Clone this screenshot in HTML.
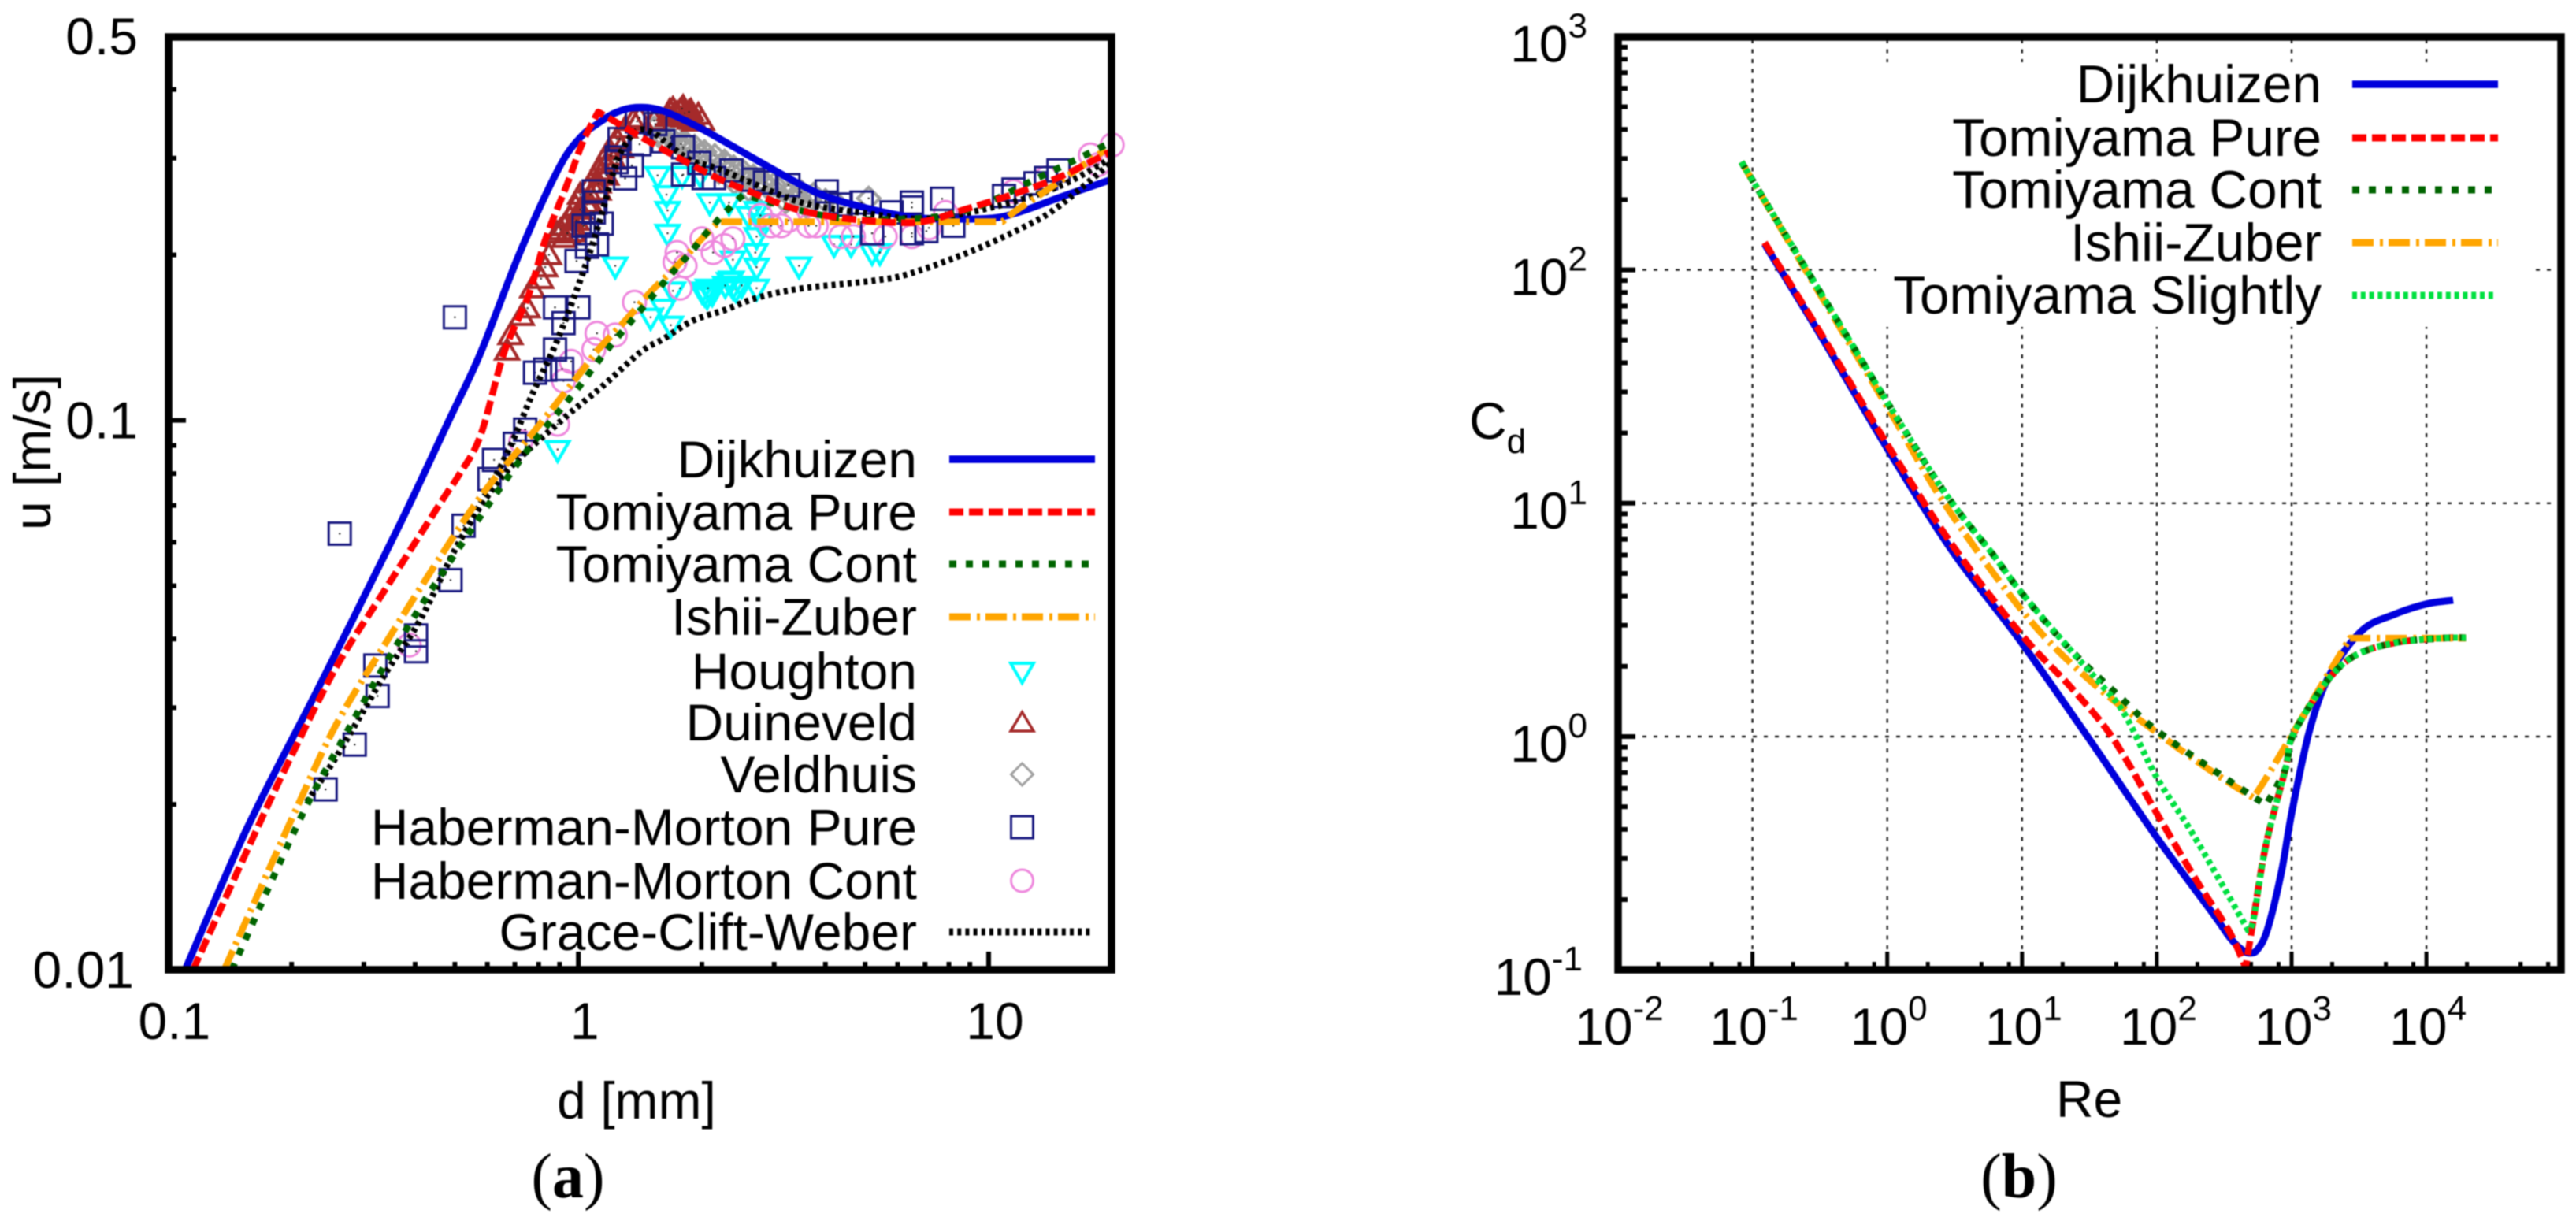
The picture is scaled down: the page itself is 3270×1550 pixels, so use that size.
<!DOCTYPE html>
<html lang="en">
<head>
<meta charset="utf-8">
<title>Bubble rise velocity and drag coefficient</title>
<style>
html,body{margin:0;padding:0;background:#fff;}
svg{display:block;filter:blur(0.8px);}
text{font-family:"Liberation Sans",sans-serif;font-size:66px;fill:#000;}
.cap{font-family:"Liberation Serif",serif;font-size:80px;}
.frame{fill:none;stroke:#000;stroke-width:9.5;}
.leg{text-anchor:end;}
.legb{text-anchor:end;font-size:67.5px;}
</style>
</head>
<body>
<svg id="figure" xmlns="http://www.w3.org/2000/svg" width="3270" height="1550" viewBox="0 0 3270 1550">
  <g id="panel-a">
    <g id="a-ticks"></g>
    <g id="a-markers"></g>
    <g id="a-lines"></g>
    <rect class="frame" x="214" y="47" width="1197" height="1184"/>
    <text x="808" y="1420" text-anchor="middle">d [mm]</text>
    <text transform="rotate(-90 64 574)" x="64" y="574" text-anchor="middle">u [m/s]</text>
    <text class="cap" x="721" y="1520" text-anchor="middle">(<tspan font-weight="bold">a</tspan>)</text>
    <g id="a-legend">
      <text class="leg" x="1164" y="606">Dijkhuizen</text>
      <line x1="1205" x2="1390" y1="583" y2="583" stroke="#0000dc" stroke-width="9.5"/>
      <text class="leg" x="1164" y="673">Tomiyama Pure</text>
      <line x1="1205" x2="1390" y1="650" y2="650" stroke="#ff0000" stroke-width="9" stroke-dasharray="18 7"/>
      <text class="leg" x="1164" y="739">Tomiyama Cont</text>
      <line x1="1205" x2="1390" y1="716" y2="716" stroke="#006400" stroke-width="9" stroke-dasharray="9 12"/>
      <text class="leg" x="1164" y="806">Ishii-Zuber</text>
      <line x1="1205" x2="1390" y1="783" y2="783" stroke="#ffa500" stroke-width="9" stroke-dasharray="27 8 4 7"/>
      <text class="leg" x="1164" y="875">Houghton</text>
      <polygon points="1283,842 1312,842 1297.5,867" fill="none" stroke="#00ffff" stroke-width="4"/>
      <text class="leg" x="1164" y="940">Duineveld</text>
      <polygon points="1283,928 1312,928 1297.5,904" fill="none" stroke="#a52a2a" stroke-width="3.5"/>
      <text class="leg" x="1164" y="1006">Veldhuis</text>
      <polygon points="1297.5,969 1311.5,983 1297.5,997 1283.5,983" fill="none" stroke="#a0a0a0" stroke-width="3"/>
      <text class="leg" x="1164" y="1073">Haberman-Morton Pure</text>
      <rect x="1283.5" y="1036" width="28" height="28" fill="none" stroke="#191980" stroke-width="3"/>
      <text class="leg" x="1164" y="1141">Haberman-Morton Cont</text>
      <circle cx="1297.5" cy="1118" r="14" fill="none" stroke="#ee88dd" stroke-width="3"/>
      <text class="leg" x="1164" y="1206">Grace-Clift-Weber</text>
      <line x1="1205" x2="1388" y1="1183" y2="1183" stroke="#000" stroke-width="9" stroke-dasharray="5 5.2"/>
    </g>
  </g>
  <g id="panel-b">
    <g id="b-grid"></g>
    <rect x="2382" y="79" width="830" height="336" fill="#fff"/>
    <g id="b-ticks"></g>
    <g id="b-lines"></g>
    <rect class="frame" x="2054" y="47" width="1197" height="1184"/>
    <text x="2652" y="1418" text-anchor="middle">Re</text>
    <text x="1865" y="557">C<tspan font-size="44" dy="18">d</tspan></text>
    <text class="cap" x="2563" y="1520" text-anchor="middle">(<tspan font-weight="bold">b</tspan>)</text>
    <g id="b-legend">
      <text class="legb" x="2947" y="130">Dijkhuizen</text>
      <line x1="2986" x2="3171" y1="107" y2="107" stroke="#0000dc" stroke-width="9.5"/>
      <text class="legb" x="2947" y="198">Tomiyama Pure</text>
      <line x1="2986" x2="3171" y1="175" y2="175" stroke="#ff0000" stroke-width="9" stroke-dasharray="18 7"/>
      <text class="legb" x="2947" y="264">Tomiyama Cont</text>
      <line x1="2986" x2="3171" y1="241" y2="241" stroke="#006400" stroke-width="9" stroke-dasharray="9 12"/>
      <text class="legb" x="2947" y="331">Ishii-Zuber</text>
      <line x1="2986" x2="3171" y1="308" y2="308" stroke="#ffa500" stroke-width="9" stroke-dasharray="27 8 4 7"/>
      <text class="legb" x="2947" y="398">Tomiyama Slightly</text>
      <line x1="2986" x2="3168" y1="375" y2="375" stroke="#00e040" stroke-width="9" stroke-dasharray="6 4.8"/>
    </g>
  </g>
</svg>
<script>
// ---- Panel (a): rise velocity u [m/s] against bubble diameter d [mm] ----
const dijkhuizenD = [0.11,0.156,0.234,0.368,0.483,0.576,0.721,0.896,1.01,1.11,1.23,1.38,1.6,2,2.7,3.4,4,5,6,7,10,12,15,19.7];
const dijkhuizenU = [0.01,0.01815,0.0329,0.0649,0.0998,0.132,0.2024,0.2877,0.327,0.346,0.3627,0.371,0.366,0.339,0.2985,0.271,0.2558,0.2437,0.2365,0.233,0.233,0.24,0.255,0.2735];
const tomiyamaPureD = [0.115,0.161,0.196,0.2566,0.3375,0.462,0.513,0.577,0.66,0.754,0.832,0.94,1.026,1.118,1.22,1.61,2.17,2.62,3.36,4.36,5.92,7.06,8.7,11.4,14.8,19.7];
const tomiyamaPureU = [0.01,0.0174,0.0238,0.0355,0.0491,0.0709,0.0798,0.0937,0.1332,0.168,0.2138,0.2696,0.3214,0.364,0.3506,0.311,0.2766,0.2608,0.2428,0.2336,0.2291,0.2306,0.2417,0.2575,0.2766,0.3075];
const tomiyamaContD = [0.143,0.209,0.2675,0.36,0.507,0.74,0.98,1.16,1.39,1.65,1.88,2.1,2.4,2.53,3.65,4.78,7,8.4,10,13.1,16.2,19.3];
const tomiyamaContU = [0.01,0.0187,0.0264,0.0389,0.058,0.0869,0.1125,0.1328,0.1559,0.1815,0.2024,0.2238,0.2485,0.2575,0.2388,0.2321,0.2336,0.2388,0.2493,0.2756,0.2973,0.3172];
const ishiiZuberD = [0.137,0.2,0.2566,0.3375,0.462,0.59,0.776,1.015,1.118,1.3,1.51,1.74,2.02,2.2,10.8,11.75,13.7,19.3];
const ishiiZuberU = [0.01,0.0188,0.0279,0.0391,0.0566,0.0742,0.095,0.1224,0.1345,0.1517,0.1722,0.191,0.2158,0.2298,0.2298,0.2417,0.2608,0.311];
const graceLowerD = [0.218,0.262,0.3375,0.412,0.518,0.66,0.91,1.135,1.42,1.61,1.9,2.28,2.72,3.48,5.23,6.47,9.2,12.35,14.75,19.7];
const graceLowerU = [0.0202,0.025,0.0345,0.0434,0.061,0.0798,0.1,0.1147,0.1332,0.1406,0.1518,0.1589,0.167,0.1737,0.1795,0.1852,0.204,0.226,0.2445,0.2925];
const graceUpperD = [0.518,0.66,0.776,0.884,1.015,1.118,1.21,1.26,1.38,1.51,1.69,1.88,2.17,2.53,3.48,4.88,7,10.3,14.75,19.7];
const graceUpperU = [0.061,0.085,0.1125,0.1386,0.1815,0.226,0.2785,0.3045,0.3355,0.3345,0.3142,0.2973,0.2877,0.2745,0.2493,0.2388,0.2328,0.2445,0.266,0.2985];

const houghtonD = [1.56,1.64,1.65,1.23,1.65,1.79,2.09,2.33,2.72,2.72,2.7,2.38,2.72,3.45,2.09,2.38,2.72,1.7,1.61,1.5,1.68,4.2,4.62,5.2,5.43,2.6,2.03,2.12,2.33,2.42,0.89,2.78,1.98,2.06,2.0,2.28,2.36,2.5,2.07];
const houghtonU = [0.279,0.2575,0.241,0.191,0.219,0.279,0.249,0.249,0.241,0.216,0.202,0.196,0.19,0.191,0.172,0.175,0.174,0.172,0.16,0.154,0.149,0.209,0.209,0.202,0.202,0.236,0.17,0.17,0.179,0.173,0.0885,0.229,0.28,0.168,0.172,0.176,0.18,0.176,0.174];
const duineveldD = [0.67,0.683,0.728,0.752,0.772,0.811,0.83,0.848,0.887,0.905,0.924,0.955,0.985,1.01,1.07,1.12,1.15,1.19,1.24,1.3,1.36,1.41,1.53,1.7,1.8,1.88,1.96,2.0,1.67,1.74,1.82,0.924,0.97,1.01,1.065,1.12,1.17,1.22,1.27,0.97,0.94,0.99,1.01,1.05,1.07,1.12,1.14,1.17,1.2,1.72,1.77,1.81,1.87,1.92,1.74,1.66,1.79,1.86];
const duineveldU = [0.134,0.143,0.155,0.16,0.174,0.181,0.19,0.2,0.219,0.222,0.226,0.234,0.245,0.2575,0.27,0.285,0.297,0.311,0.325,0.34,0.351,0.355,0.351,0.369,0.372,0.366,0.36,0.351,0.366,0.362,0.362,0.215,0.22,0.2375,0.249,0.262,0.279,0.298,0.313,0.226,0.219,0.231,0.242,0.247,0.2575,0.27,0.282,0.293,0.303,0.362,0.366,0.356,0.353,0.35,0.357,0.357,0.369,0.364];
const veldhuisD = [1.53,1.63,1.73,1.82,1.92,2.03,2.15,2.27,2.39,2.52,2.67,2.82,3.0,3.14,3.33,3.5,3.74,4.0,4.26,5.1,1.6,1.8,2.0,2.2,2.4,2.6,2.9,3.2,3.6,1.58,1.68,1.78,1.87,1.98,2.09,2.22,2.33,2.46,2.58,2.72,2.88,3.05,3.25,3.45,3.66];
const veldhuisU = [0.34,0.3345,0.329,0.321,0.315,0.308,0.303,0.296,0.289,0.284,0.278,0.273,0.269,0.266,0.263,0.26,0.2575,0.251,0.248,0.2535,0.325,0.312,0.296,0.283,0.271,0.263,0.255,0.25,0.245,0.333,0.327,0.318,0.31,0.305,0.298,0.291,0.285,0.28,0.2747,0.269,0.266,0.26,0.2575,0.254,0.251];
const habermanPureD = [0.5,0.262,0.242,0.285,0.324,0.32,0.402,0.402,0.488,0.525,0.607,0.623,0.7,0.742,0.784,0.83,0.877,0.877,1.0,0.92,0.913,0.99,1.05,1.05,1.11,1.14,1.03,1.09,1.1,1.09,1.3,1.35,1.24,1.24,1.26,1.39,1.54,1.41,1.61,1.8,1.97,1.8,2.02,2.14,2.36,2.67,2.85,3.25,4.03,4.03,4.36,4.9,5.8,6.5,6.5,7.7,6.5,8.2,5.2,7.05,11.5,14.8,13.8,10.9,13];
const habermanPureU = [0.154,0.0622,0.0213,0.0257,0.0315,0.0358,0.038,0.0406,0.0512,0.0643,0.0782,0.0847,0.0906,0.0962,0.1221,0.1237,0.1345,0.1605,0.1605,0.1503,0.124,0.195,0.207,0.219,0.209,0.228,0.226,0.239,0.249,0.261,0.2755,0.291,0.295,0.301,0.325,0.35,0.346,0.318,0.322,0.314,0.294,0.28,0.276,0.276,0.285,0.274,0.271,0.268,0.261,0.249,0.247,0.249,0.239,0.249,0.244,0.253,0.219,0.226,0.219,0.221,0.263,0.285,0.276,0.256,0.27];
const habermanContD = [1.11,1.23,1.37,0.96,0.92,1.09,1.77,1.82,1.72,1.74,2.0,2.13,2.27,2.38,2.78,3.12,3.25,3.64,3.8,4.36,4.68,5.6,6.5,7.15,7.85,11.5,13.8,17.7,20,18.5,0.387,0.89,0.724,2.95,5.2];
const habermanContU = [0.144,0.143,0.164,0.128,0.118,0.1345,0.174,0.191,0.194,0.202,0.214,0.202,0.208,0.214,0.236,0.226,0.231,0.226,0.226,0.216,0.216,0.216,0.216,0.224,0.239,0.261,0.276,0.304,0.317,0.292,0.039,0.0984,0.0915,0.226,0.219];

const aDecadesX = [0.1,1,10];
const aLabelsX = ["0.1","1","10"];
const aLabelsY = ["0.01","0.1","0.5"];
const aValuesY = [0.01,0.1,0.5];

// ---- Panel (b): drag coefficient Cd against Reynolds number Re ----
const bDijkhuizenRe = [0.123,0.326,1.01,3.04,9.66,31.1,100,261,350,427,487,557,662,841,1000,1358,1919,3311,5781,10000,15800];
const bDijkhuizenCd = [129,51.5,17,6.23,2.58,0.987,0.369,0.174,0.137,0.122,0.118,0.122,0.149,0.263,0.468,1.06,1.84,2.84,3.34,3.7,3.84];
const bPureRe = [0.123,0.326,1.01,3.04,9.66,22.3,41.1,62.1,100,200,345,456,521,644,899,1028,1795,2897,5781,13180,19630];
const bPureCd = [131,52.7,17.7,6.62,2.78,1.66,1.1,0.76,0.468,0.238,0.146,0.102,0.165,0.342,0.726,1.02,1.7,2.21,2.52,2.64,2.65];
const bContRe = [0.0828,0.293,1.02,2.73,6.07,9.66,22.3,54.5,100,318,644,899,1028,1795,2897,5781,13180,19630];
const bContCd = [290,86.8,26.6,10.9,6.04,4.21,2.39,1.46,1.06,0.667,0.509,0.726,1.02,1.7,2.21,2.52,2.64,2.65];
const bIshiiRe = [0.0828,0.293,1.02,2.73,11,33.3,100,261,521,689,1028,1919,2710,19630];
const bIshiiCd = [290,84.9,25.4,9.73,3.24,1.7,1.04,0.703,0.546,0.703,1.04,1.9,2.64,2.64];
const bSlightRe = [0.0828,0.293,1.02,2.73,6.07,9.66,22.3,39,58,100,187,475,521,644,899,1028,1795,2897,5781,13180,19630];
const bSlightCd = [290,86.8,26.6,10.9,6.04,4.21,2.39,1.66,1.24,0.667,0.378,0.148,0.165,0.342,0.726,1.02,1.7,2.21,2.52,2.64,2.65];

const bDecadesX = [-2,-1,0,1,2,3,4];
const bDecadesY = [-1,0,1,2,3];
const bMinorX = [2,5,8];
const decadeMinor = [2,3,4,5,6,7,8,9];

// ---- Axis functions ----
const xA = d => 213.4 + 520.8 * (Math.log10(d) + 1);
const yA = u => 1231.2 - 697.6 * (Math.log10(u) + 2);
const xB = re => 2909 + 171.1 * (Math.log10(re) - 3);
const yB = cd => 1231.2 - 296.2 * (Math.log10(cd) + 1);

const NS = "http://www.w3.org/2000/svg";
function make(parent, tag, attrs) {
  const el = document.createElementNS(NS, tag);
  for (const k in attrs) el.setAttribute(k, attrs[k]);
  parent.appendChild(el);
  return el;
}
// Smooth path through the series (Catmull-Rom); sample indexes in `corners` stay sharp kinks.
function pathOf(xs, ys, fx, fy, corners) {
  const p = xs.map((v, i) => [fx(v), fy(ys[i])]);
  const isCorner = i => corners.indexOf(i) >= 0;
  let d = "M" + p[0][0].toFixed(1) + " " + p[0][1].toFixed(1);
  for (let i = 0; i < p.length - 1; i++) {
    const a = p[Math.max(i - 1, 0)], b = p[i], c = p[i + 1], e = p[Math.min(i + 2, p.length - 1)];
    const c1 = isCorner(i) ? b : [b[0] + (c[0] - a[0]) / 6, b[1] + (c[1] - a[1]) / 6];
    const c2 = isCorner(i + 1) ? c : [c[0] - (e[0] - b[0]) / 6, c[1] - (e[1] - b[1]) / 6];
    d += " C" + c1[0].toFixed(1) + " " + c1[1].toFixed(1) + " " + c2[0].toFixed(1) + " " + c2[1].toFixed(1) + " " + c[0].toFixed(1) + " " + c[1].toFixed(1);
  }
  return d;
}
function curve(parent, name, xs, ys, fx, fy, color, width, dash, corners) {
  const el = make(parent, "path", {d: pathOf(xs, ys, fx, fy, corners || []), fill: "none", stroke: color, "stroke-width": width, "stroke-linejoin": "round"});
  if (dash) el.setAttribute("stroke-dasharray", dash);
  
  
}
function dot(parent, x, y) {
  const el = make(parent, "circle", {cx: x, cy: y, r: 1.2, fill: "#222"});
  
  
}
function markers(kind, name, xs, ys) {
  const g = document.getElementById("a-markers");
  xs.forEach((v, i) => {
    const x = xA(v), y = yA(ys[i]);
    let el;
    if (kind === "down") el = make(g, "polygon", {points: [x-14.5, y-10, x+14.5, y-10, x, y+15].join(" "), fill: "none", stroke: "#00ffff", "stroke-width": 4.2});
    if (kind === "up") el = make(g, "polygon", {points: [x-14.5, y+11, x+14.5, y+11, x, y-14].join(" "), fill: "none", stroke: "#a52a2a", "stroke-width": 4});
    if (kind === "diamond") el = make(g, "polygon", {points: [x, y-14, x+14, y, x, y+14, x-14, y].join(" "), fill: "none", stroke: "#a0a0a0", "stroke-width": 4});
    if (kind === "square") el = make(g, "rect", {x: x-14, y: y-14, width: 28, height: 28, fill: "none", stroke: "#191980", "stroke-width": 3});
    if (kind === "circle") el = make(g, "circle", {cx: x, cy: y, r: 14.5, fill: "none", stroke: "#ee88dd", "stroke-width": 3});
    
    
    dot(g, x, y);
  });
}

// ---- Panel (a) ticks ----
const aTicks = document.getElementById("a-ticks");
function tick(parent, name, x1, y1, x2, y2, w) {
  const el = make(parent, "line", {x1: x1, y1: y1, x2: x2, y2: y2, stroke: "#000", "stroke-width": w});
  
  
}
aDecadesX.forEach((d, i) => {
  tick(aTicks, "x-major-tick", xA(d), 1231, xA(d), 1208, 6);
  const t = make(aTicks, "text", {x: xA(d) + 8, y: 1319, "text-anchor": "middle"});
  t.textContent = aLabelsX[i];
  
  
  decadeMinor.forEach(m => {
    const v = d * m;
    if (v <= 20) tick(aTicks, "x-minor-tick", xA(v), 1231, xA(v), 1221, 6);
  });
});
[0.01, 0.1].forEach(base => {
  tick(aTicks, "y-major-tick", 214, yA(base), 236, yA(base), 6);
  decadeMinor.forEach(m => {
    const v = base * m;
    if (v < 0.5) tick(aTicks, "y-minor-tick", 214, yA(v), 224, yA(v), 6);
  });
});
aValuesY.forEach((v, i) => {
  const t = make(aTicks, "text", {x: i === 0 ? 170 : 175, y: yA(v) + 23, "text-anchor": "end"});
  t.textContent = aLabelsY[i];
  
  
});

// ---- Panel (a) series ----
markers("diamond", "veldhuis-point", veldhuisD, veldhuisU);
markers("up", "duineveld-point", duineveldD, duineveldU);
markers("down", "houghton-point", houghtonD, houghtonU);
markers("circle", "haberman-morton-cont-point", habermanContD, habermanContU);
markers("square", "haberman-morton-pure-point", habermanPureD, habermanPureU);
const aLines = document.getElementById("a-lines");
curve(aLines, "curve-dijkhuizen", dijkhuizenD, dijkhuizenU, xA, yA, "#0000dc", 9);
curve(aLines, "curve-grace-lower", graceLowerD, graceLowerU, xA, yA, "#000", 8, "5 5.2");
curve(aLines, "curve-grace-upper", graceUpperD, graceUpperU, xA, yA, "#000", 8, "5 5.2");
curve(aLines, "curve-ishii-zuber", ishiiZuberD, ishiiZuberU, xA, yA, "#ffa500", 8.5, "27 8 4 7", [13, 14]);
curve(aLines, "curve-tomiyama-cont", tomiyamaContD, tomiyamaContU, xA, yA, "#006400", 8.5, "9 12", [13]);
curve(aLines, "curve-tomiyama-pure", tomiyamaPureD, tomiyamaPureU, xA, yA, "#ff0000", 8.5, "18 7", [13]);

// ---- Panel (b) grid and ticks ----
const bGrid = document.getElementById("b-grid");
const bTicks = document.getElementById("b-ticks");
bDecadesX.forEach(e => {
  const x = xB(Math.pow(10, e));
  if (e > -2) {
    const g = make(bGrid, "line", {x1: x, y1: 50, x2: x, y2: 1228, stroke: "#222", "stroke-width": 2.4, "stroke-dasharray": "5 7.5"});
    
    
    tick(bTicks, "x-major-tick", x, 1231, x, 1208, 5);
  }
  bMinorX.forEach(m => {
    const xm = xB(m * Math.pow(10, e));
    tick(bTicks, "x-minor-tick", xm, 1231, xm, 1221, 5);
  });
  const t = make(bTicks, "text", {x: x + 2, y: 1326, "text-anchor": "middle"});
  t.appendChild(document.createTextNode("10"));
  const s = make(t, "tspan", {"font-size": 44, dy: -31});
  s.textContent = String(e);
  
  
});
[2, 5, 8].forEach(m => {
  const xm = xB(m * 1e4);
  if (xm < 3246) tick(bTicks, "x-minor-tick", xm, 1231, xm, 1221, 5);
});
bDecadesY.forEach(e => {
  const y = yB(Math.pow(10, e));
  if (e > -1 && e < 3) {
    const g = make(bGrid, "line", {x1: 2057, y1: y, x2: 3248, y2: y, stroke: "#222", "stroke-width": 2.4, "stroke-dasharray": "5 9"});
    
    
  }
  if (e < 3) {
    tick(bTicks, "y-major-tick", 2054, y, 2076, y, 6);
    decadeMinor.forEach(m => {
      const ym = yB(m * Math.pow(10, e));
      tick(bTicks, "y-minor-tick", 2054, ym, 2066, ym, 6);
    });
  }
  const t = make(bTicks, "text", {x: e < 0 ? 2009 : 2015, y: y + 32, "text-anchor": "end"});
  t.appendChild(document.createTextNode("10"));
  const s = make(t, "tspan", {"font-size": 44, dy: -31});
  s.textContent = String(e);
  
  
});

// ---- Panel (b) series ----
const bLines = document.getElementById("b-lines");
curve(bLines, "curve-b-dijkhuizen", bDijkhuizenRe, bDijkhuizenCd, xB, yB, "#0000dc", 9);
curve(bLines, "curve-b-tomiyama-pure", bPureRe, bPureCd, xB, yB, "#ff0000", 8.5, "18 7", [11]);
curve(bLines, "curve-b-ishii-zuber", bIshiiRe, bIshiiCd, xB, yB, "#ffa500", 8.5, "27 8 4 7", [8, 12]);
curve(bLines, "curve-b-tomiyama-cont", bContRe, bContCd, xB, yB, "#006400", 8.5, "9 12", [10]);
curve(bLines, "curve-b-tomiyama-slightly", bSlightRe, bSlightCd, xB, yB, "#00e040", 8, "6 4.8", [11]);
</script>
</body>
</html>
